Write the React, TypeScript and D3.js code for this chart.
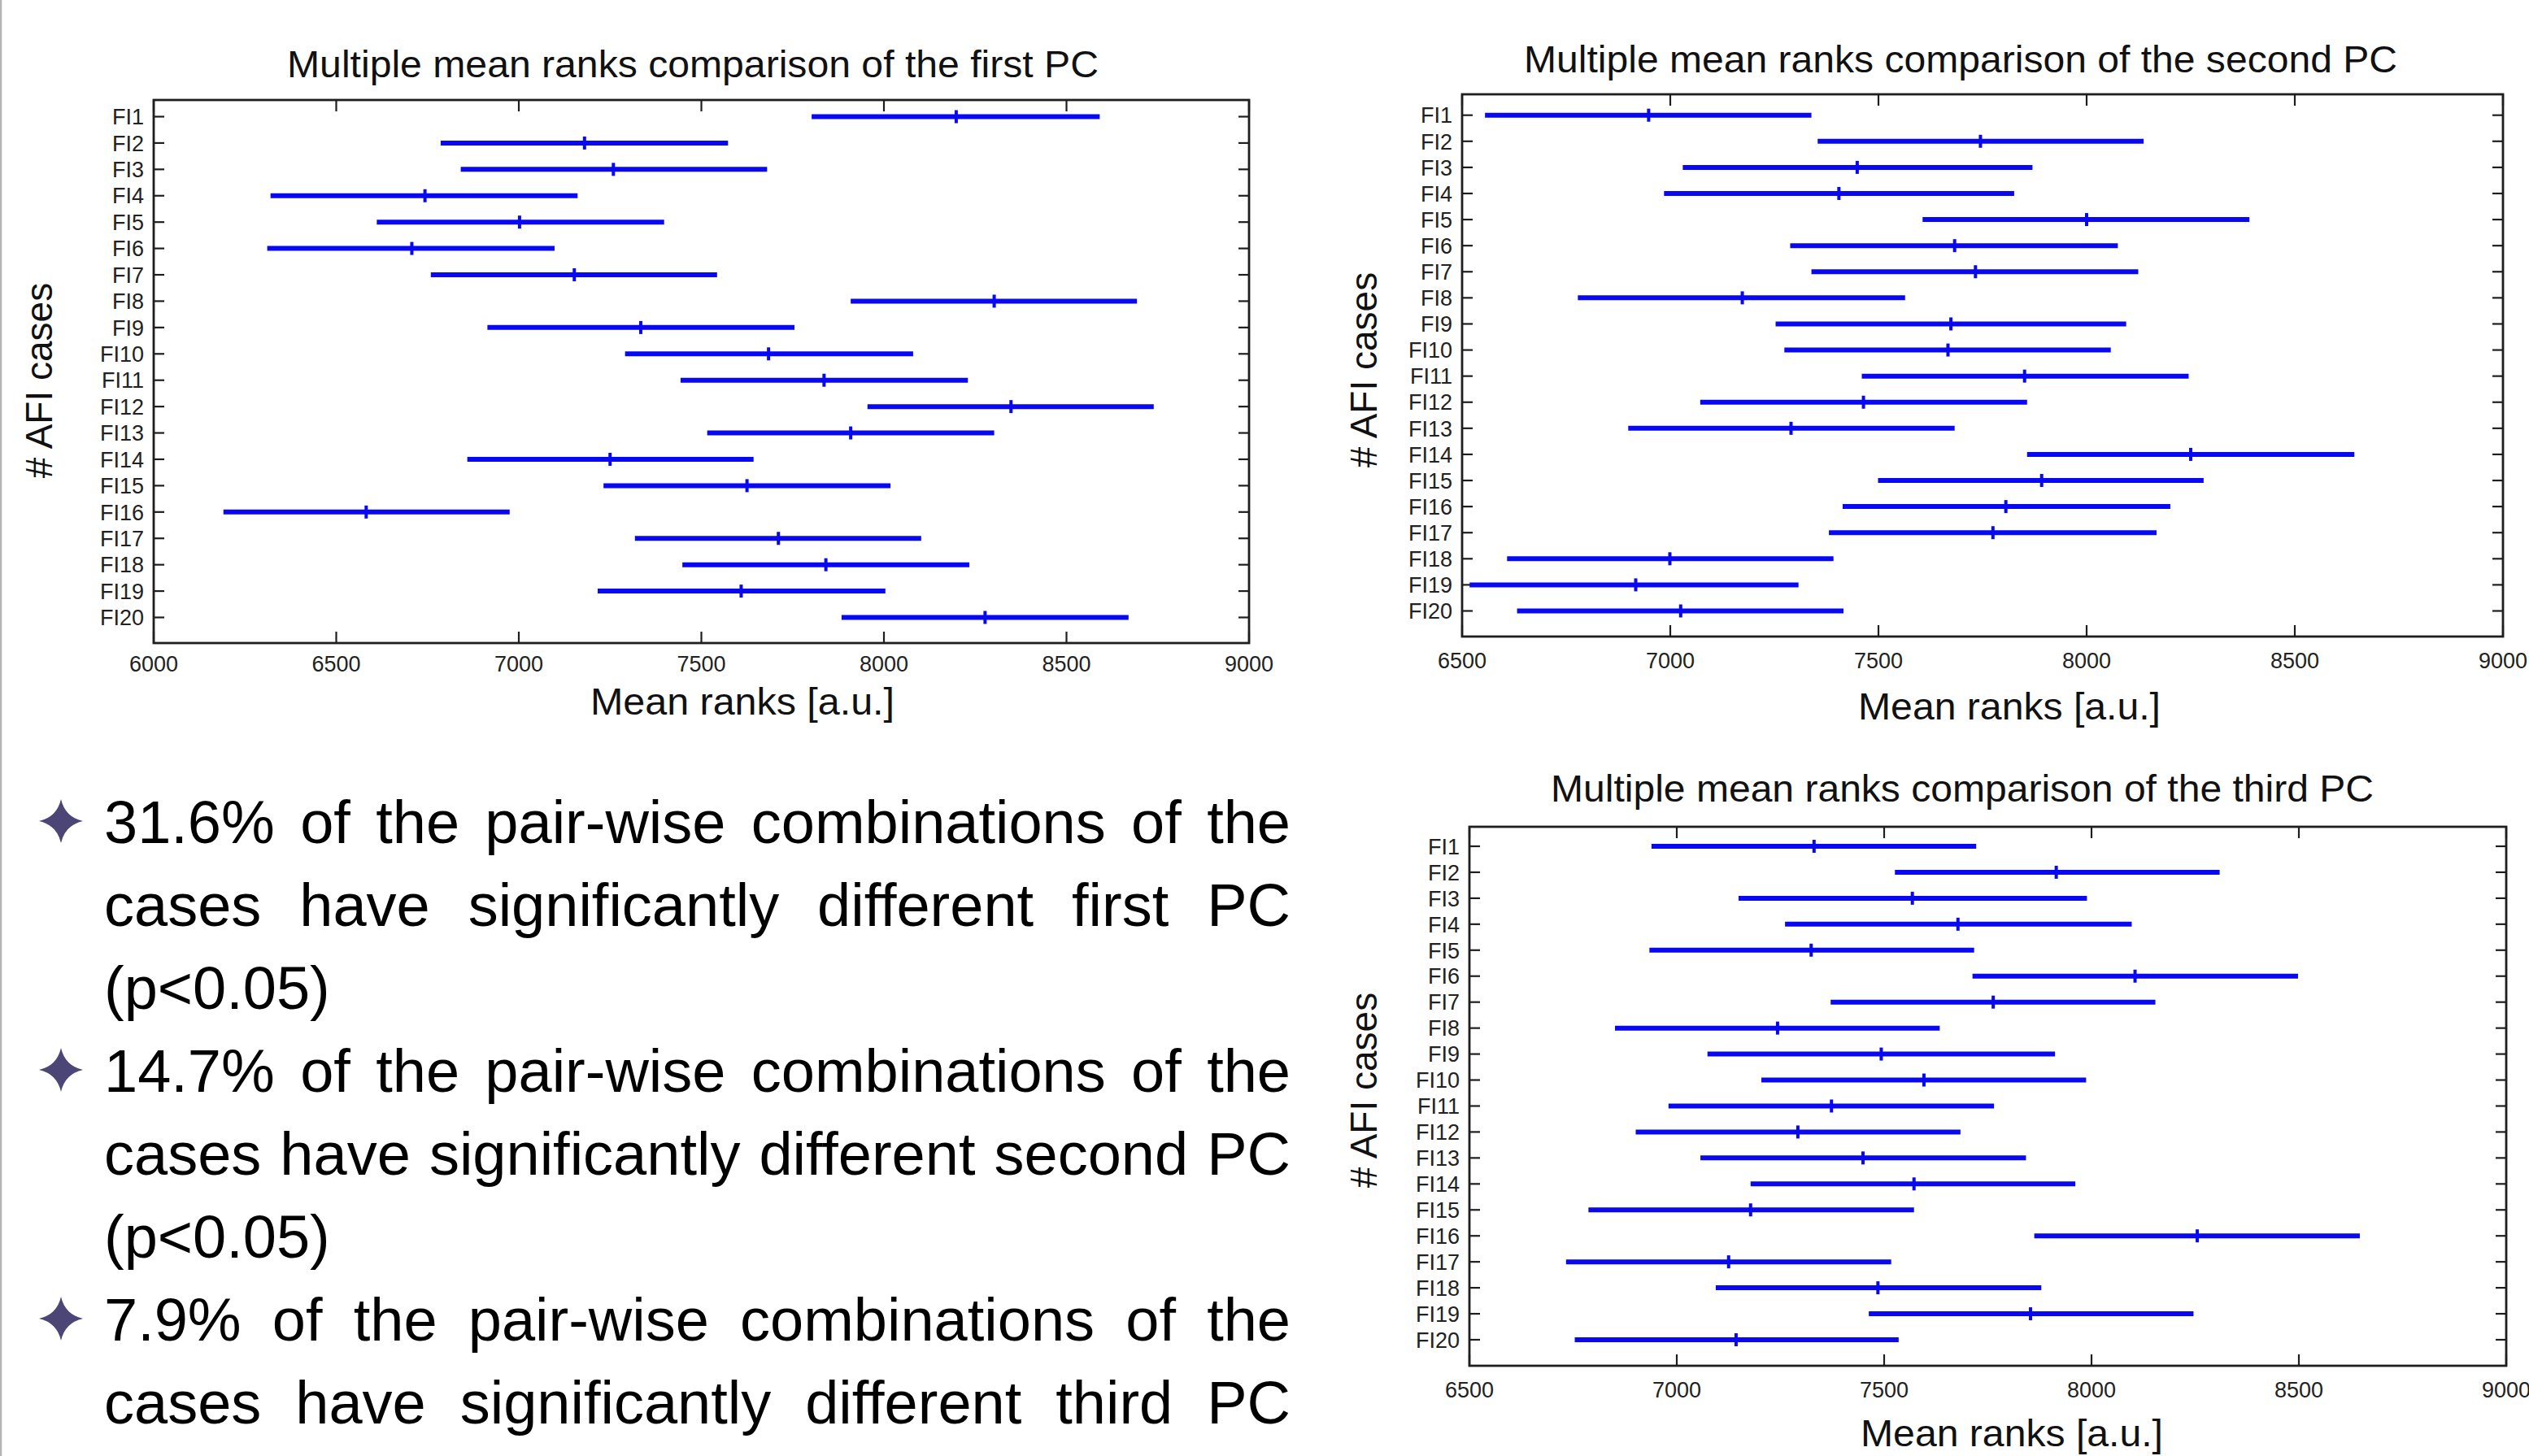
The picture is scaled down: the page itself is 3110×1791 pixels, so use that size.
import React, { useMemo } from "react";
import { scaleLinear, scalePoint } from "d3";

const categories = [
  "FI1", "FI2", "FI3", "FI4", "FI5", "FI6", "FI7", "FI8", "FI9", "FI10",
  "FI11", "FI12", "FI13", "FI14", "FI15", "FI16", "FI17", "FI18", "FI19", "FI20",
];

// first PC: lower bound, mean rank, upper bound
const pc1Low = [7802, 6786, 6841, 6320, 6611, 6311, 6759, 7909, 6914, 7291, 7443, 7955, 7516, 6859, 7232, 6191, 7318, 7448, 7216, 7884];
const pc1Mean = [8198, 7180, 7259, 6743, 7002, 6707, 7152, 8302, 7334, 7684, 7836, 8348, 7909, 7250, 7625, 6582, 7711, 7841, 7609, 8277];
const pc1High = [8591, 7573, 7680, 7161, 7398, 7098, 7543, 8693, 7755, 8080, 8230, 8739, 8302, 7643, 8018, 6975, 8102, 8234, 8004, 8670];

// second PC
const pc2Low = [6555, 7354, 7030, 6985, 7606, 7288, 7339, 6778, 7253, 7274, 7460, 7072, 6899, 7857, 7499, 7414, 7381, 6608, 6518, 6632];
const pc2Mean = [6948, 7745, 7449, 7405, 8000, 7683, 7733, 7173, 7674, 7667, 7851, 7464, 7290, 8250, 7892, 7806, 7775, 6999, 6917, 7025];
const pc2High = [7339, 8137, 7870, 7826, 8391, 8075, 8124, 7564, 8095, 8058, 8245, 7857, 7683, 8643, 8281, 8201, 8168, 7392, 7308, 7416];

// third PC
const pc3Low = [6939, 7526, 7149, 7261, 6934, 7713, 7371, 6851, 7074, 7204, 6980, 6901, 7057, 7178, 6787, 7862, 6733, 7094, 7463, 6754];
const pc3Mean = [7331, 7915, 7568, 7678, 7324, 8105, 7763, 7243, 7493, 7596, 7373, 7292, 7449, 7572, 7178, 8255, 7125, 7485, 7853, 7143];
const pc3High = [7722, 8309, 7989, 8097, 7717, 8498, 8154, 7634, 7912, 7987, 7765, 7684, 7842, 7961, 7572, 8647, 7517, 7879, 8246, 7535];

const xTicks1 = [6000, 6500, 7000, 7500, 8000, 8500, 9000];
const xTicks23 = [6500, 7000, 7500, 8000, 8500, 9000];

const titles = [
  "Multiple mean ranks comparison of the first PC",
  "Multiple mean ranks comparison of the second PC",
  "Multiple mean ranks comparison of the third PC",
];
const xLabel = "Mean ranks [a.u.]";
const yLabel = "# AFI cases";

const bodyLines = [
  { text: "31.6% of the pair-wise combinations of the", justify: true, bullet: true },
  { text: "cases have significantly different first PC", justify: true, bullet: false },
  { text: "(p<0.05)", justify: false, bullet: false },
  { text: "14.7% of the pair-wise combinations of the", justify: true, bullet: true },
  { text: "cases have significantly different second PC", justify: true, bullet: false },
  { text: "(p<0.05)", justify: false, bullet: false },
  { text: "7.9% of the pair-wise combinations of the", justify: true, bullet: true },
  { text: "cases have significantly different third PC", justify: true, bullet: false },
  { text: "(p<0.05)", justify: false, bullet: false },
];

const FONT = "'Liberation Sans', Arial, Helvetica, sans-serif";
const BLUE = "#0808f2";
const AXIS = "#1e1e1e";

const panels = [
  {
    low: pc1Low, mean: pc1Mean, high: pc1High, ticks: xTicks1, domain: [6000, 9000],
    left: 189, right: 1536, top: 123, bottom: 791, yFirst: 143.5, yLast: 759.5,
    title: titles[0], titleX: 353, titleW: 998, titleY: 95,
    xlX: 726, xlW: 374, xlY: 879, ylX: 48, ylY: 468, tickDy: 35,
  },
  {
    low: pc2Low, mean: pc2Mean, high: pc2High, ticks: xTicks23, domain: [6500, 9000],
    left: 1798, right: 3078, top: 116, bottom: 783, yFirst: 141.7, yLast: 751.5,
    title: titles[1], titleX: 1874, titleW: 1074, titleY: 89,
    xlX: 2285, xlW: 372, xlY: 885, ylX: 1677, ylY: 455, tickDy: 39,
  },
  {
    low: pc3Low, mean: pc3Mean, high: pc3High, ticks: xTicks23, domain: [6500, 9000],
    left: 1807, right: 3082, top: 1017, bottom: 1680, yFirst: 1041, yLast: 1648,
    title: titles[2], titleX: 1907, titleW: 1012, titleY: 986,
    xlX: 2288, xlW: 372, xlY: 1779, ylX: 1677, ylY: 1341, tickDy: 39,
  },
];

function Panel({ p }) {
  const x = scaleLinear().domain(p.domain).range([p.left, p.right]);
  const y = scalePoint().domain(categories).range([p.yFirst, p.yLast]);
  return (
    <g>
      <rect
        x={p.left}
        y={p.top}
        width={p.right - p.left}
        height={p.bottom - p.top}
        fill="white"
        stroke={AXIS}
        strokeWidth={2.8}
      />
      {categories.map((c) => (
        <g key={c}>
          <line x1={p.left} x2={p.left + 13} y1={y(c)} y2={y(c)} stroke={AXIS} strokeWidth={2.2} />
          <line x1={p.right - 13} x2={p.right} y1={y(c)} y2={y(c)} stroke={AXIS} strokeWidth={2.2} />
          <text
            x={p.left - 12}
            y={y(c)}
            dy="0.36em"
            textAnchor="end"
            fontSize={27}
            fill="#222"
          >
            {c}
          </text>
        </g>
      ))}
      {p.ticks.map((t) => (
        <g key={t}>
          <line x1={x(t)} x2={x(t)} y1={p.bottom} y2={p.bottom - 14} stroke={AXIS} strokeWidth={2.2} />
          <line x1={x(t)} x2={x(t)} y1={p.top} y2={p.top + 14} stroke={AXIS} strokeWidth={2.2} />
          <text x={x(t)} y={p.bottom + p.tickDy} textAnchor="middle" fontSize={27} fill="#222">
            {t}
          </text>
        </g>
      ))}
      {categories.map((c, i) => (
        <g key={"bar" + c}>
          <line
            x1={x(p.low[i])}
            x2={x(p.high[i])}
            y1={y(c)}
            y2={y(c)}
            stroke={BLUE}
            strokeWidth={6}
          />
          <line
            x1={x(p.mean[i])}
            x2={x(p.mean[i])}
            y1={y(c) - 8}
            y2={y(c) + 8}
            stroke={BLUE}
            strokeWidth={4}
          />
        </g>
      ))}
      <text
        x={p.titleX}
        y={p.titleY}
        fontSize={47}
        textLength={p.titleW}
        lengthAdjust="spacingAndGlyphs"
        fill="#111"
      >
        {p.title}
      </text>
      <text
        x={p.xlX}
        y={p.xlY}
        fontSize={46}
        textLength={p.xlW}
        lengthAdjust="spacingAndGlyphs"
        fill="#111"
      >
        {xLabel}
      </text>
      <text
        transform={`translate(${p.ylX + 16},${p.ylY}) rotate(-90)`}
        textAnchor="middle"
        fontSize={46}
        fill="#111"
      >
        {yLabel}
      </text>
    </g>
  );
}

const BODY_SIZE = 74;
const BODY_LEFT = 128;
const BODY_RIGHT = 1587;
const BODY_TOP = 1037;
const BODY_STEP = 102;

function Body() {
  const layout = useMemo(() => {
    const ctx = document.createElement("canvas").getContext("2d");
    ctx.font = `${BODY_SIZE}px ${FONT}`;
    return bodyLines.map((l) => {
      const words = l.text.split(" ");
      const widths = words.map((w) => ctx.measureText(w).width);
      const space = ctx.measureText(" ").width;
      const total = widths.reduce((a, b) => a + b, 0);
      let gap = space;
      if (l.justify && words.length > 1) {
        gap = Math.max(space, (BODY_RIGHT - BODY_LEFT - total) / (words.length - 1));
      }
      let cx = BODY_LEFT;
      const xs = widths.map((w) => {
        const pos = cx;
        cx += w + gap;
        return pos;
      });
      return { words, xs };
    });
  }, []);

  const star = "M0,-27 Q5,-5 27,0 Q5,5 0,27 Q-5,5 -27,0 Q-5,-5 0,-27Z";

  return (
    <g>
      {layout.map((l, i) => (
        <g key={i}>
          {bodyLines[i].bullet && (
            <path d={star} transform={`translate(75,${BODY_TOP + i * BODY_STEP - 27})`} fill="#4b4675" />
          )}
          <text y={BODY_TOP + i * BODY_STEP} fontSize={BODY_SIZE} fill="#000">
            {l.words.map((w, j) => (
              <tspan key={j} x={l.xs[j]}>
                {w}
              </tspan>
            ))}
          </text>
        </g>
      ))}
    </g>
  );
}

export default function App() {
  return (
    <svg
      width={3110}
      height={1791}
      style={{ position: "absolute", left: 0, top: 0, display: "block", background: "white" }}
      fontFamily={FONT}
    >
      <rect x={0} y={0} width={3110} height={1791} fill="white" />
      <line x1={1} x2={1} y1={0} y2={1791} stroke="#b4b4b4" strokeWidth={2.5} />
      {panels.map((p, i) => (
        <Panel key={i} p={p} />
      ))}
      <Body />
    </svg>
  );
}
